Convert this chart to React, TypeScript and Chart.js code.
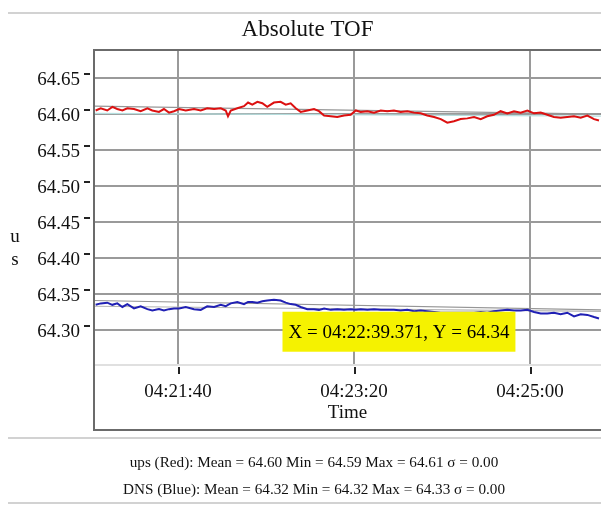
import React, { useEffect, useRef } from "react";
import { Chart, registerables } from "chart.js";

Chart.register(...registerables);

const SERIF = '"Liberation Serif", "Times New Roman", serif';

// ---------- text ----------
const TITLE = "Absolute TOF";
const X_TITLE = "Time";
const Y_UNIT_LETTERS = ["u", "s"];
const STATS_LINES = [
  "ups (Red): Mean = 64.60 Min = 64.59 Max = 64.61 σ = 0.00",
  "DNS (Blue): Mean = 64.32 Min = 64.32 Max = 64.33 σ = 0.00",
];

// ---------- data ----------
const TIME_BASE = "04:20:00";
// seconds after TIME_BASE
const sampleSeconds = [
  53.2, 56.1, 59.8, 62.7, 65.5, 68.4, 71.2, 75.0, 78.8, 82.6,
  85.4, 89.2, 92.0, 94.9, 97.7, 100.6, 104.4, 109.1, 112.9, 116.6,
  120.5, 124.3, 127.1, 128.4, 130.0, 133.7, 137.5, 139.8, 142.2, 145.1,
  147.9, 150.7, 154.5, 158.3, 161.2, 164.0, 166.9, 169.7, 173.5, 177.3,
  180.1, 183.0, 186.8, 190.5, 194.3, 198.1, 201.0, 203.8, 207.6, 211.4,
  215.2, 218.9, 222.7, 226.5, 230.3, 234.1, 237.9, 241.6, 245.5, 249.3,
  253.0, 256.8, 260.6, 264.4, 268.2, 272.0, 275.7, 279.5, 283.3, 287.1,
  290.9, 294.7, 298.5, 302.3, 306.1, 309.8, 313.6, 317.4, 321.2, 325.0,
  328.8, 332.6, 336.4, 339.2,
];
const upsRed = [
  64.605, 64.608, 64.605, 64.610, 64.607, 64.605, 64.608, 64.607, 64.604, 64.608,
  64.605, 64.603, 64.607, 64.602, 64.604, 64.607, 64.605, 64.607, 64.605, 64.608,
  64.607, 64.608, 64.605, 64.597, 64.605, 64.608, 64.611, 64.616, 64.613, 64.617,
  64.615, 64.610, 64.616, 64.617, 64.613, 64.615, 64.608, 64.603, 64.605, 64.607,
  64.604, 64.598, 64.597, 64.596, 64.598, 64.599, 64.605, 64.603, 64.604, 64.602,
  64.605, 64.604, 64.605, 64.603, 64.604, 64.602, 64.601, 64.598, 64.596, 64.593,
  64.588, 64.590, 64.593, 64.594, 64.596, 64.593, 64.597, 64.599, 64.604, 64.601,
  64.604, 64.602, 64.605, 64.601, 64.602, 64.599, 64.596, 64.595, 64.596, 64.597,
  64.595, 64.598, 64.593, 64.591,
];
const dnsBlue = [
  64.335, 64.337, 64.338, 64.335, 64.337, 64.332, 64.336, 64.330, 64.333, 64.329,
  64.327, 64.329, 64.327, 64.329, 64.330, 64.330, 64.332, 64.329, 64.328, 64.333,
  64.332, 64.335, 64.333, 64.335, 64.337, 64.339, 64.336, 64.339, 64.339, 64.338,
  64.340, 64.341, 64.342, 64.341, 64.338, 64.336, 64.335, 64.332, 64.329, 64.329,
  64.328, 64.330, 64.328, 64.329, 64.328, 64.329, 64.328, 64.329, 64.328, 64.329,
  64.328, 64.328, 64.328, 64.327, 64.328, 64.326, 64.327, 64.326, 64.325, 64.324,
  64.324, 64.324, 64.324, 64.324, 64.324, 64.325, 64.324, 64.326, 64.327, 64.328,
  64.327, 64.327, 64.328, 64.325, 64.323, 64.323, 64.324, 64.322, 64.324, 64.319,
  64.322, 64.321, 64.318, 64.316,
];
// reference (envelope) lines, start and end
const trendSeconds = [52.3, 340.3];
const upsUpperRef = [64.611, 64.6];
const upsLowerRef = [64.601, 64.597];
const dnsUpperRef = [64.341, 64.328];
const dnsLowerRef = [64.333, 64.326];

// axes
const X_RANGE_SECONDS = [52.27, 340.34];
const X_STEP_SECONDS = 100;
const Y_RANGE = [64.2514, 64.689];
const Y_STEP = 0.05;

// readout box
const READOUT_X = "04:22:39.371";
const READOUT_Y = 64.34;

// ---------- helpers ----------
function parseTime(s: string): number {
  const [h, m, sec] = s.split(":");
  return Number(h) * 3600 + Number(m) * 60 + Number(sec);
}
function fmtTime(v: number): string {
  const t = Math.round(v);
  const h = Math.floor(t / 3600);
  const m = Math.floor((t % 3600) / 60);
  const s = t % 60;
  const p = (n: number) => String(n).padStart(2, "0");
  return `${p(h)}:${p(m)}:${p(s)}`;
}
const BASE = parseTime(TIME_BASE);
const pts = (xs: number[], ys: number[]) => xs.map((x, i) => ({ x: BASE + x, y: ys[i] }));

const decorPlugin = {
  id: "decor",
  afterDraw(chart: any) {
    const { ctx, chartArea: a, scales } = chart;
    const W = chart.width;
    ctx.save();
    // page rules
    ctx.strokeStyle = "#d2d2d2";
    ctx.lineWidth = 2;
    [13, 438, 503].forEach((y) => {
      ctx.beginPath();
      ctx.moveTo(8, y);
      ctx.lineTo(W, y);
      ctx.stroke();
    });
    // frame
    ctx.strokeStyle = "#6b6b6b";
    ctx.lineWidth = 2;
    const fb = a.bottom + 65;
    ctx.beginPath();
    ctx.moveTo(W, a.top);
    ctx.lineTo(a.left, a.top);
    ctx.lineTo(a.left, fb);
    ctx.lineTo(W, fb);
    ctx.stroke();
    // tick marks
    ctx.strokeStyle = "#222";
    ctx.lineWidth = 2;
    scales.y.ticks.forEach((t: any) => {
      const py = Math.round(scales.y.getPixelForValue(t.value)) - 4;
      ctx.beginPath();
      ctx.moveTo(a.left - 10, py);
      ctx.lineTo(a.left - 4, py);
      ctx.stroke();
    });
    scales.x.ticks.forEach((t: any) => {
      const px = Math.round(scales.x.getPixelForValue(t.value)) + 1;
      ctx.beginPath();
      ctx.moveTo(px, a.bottom + 2);
      ctx.lineTo(px, a.bottom + 9);
      ctx.stroke();
    });
    // readout box
    const tx = scales.x.getPixelForValue(parseTime(READOUT_X));
    const ty = scales.y.getPixelForValue(READOUT_Y);
    const label = `X = ${READOUT_X}, Y = ${READOUT_Y.toFixed(2)}`;
    ctx.font = `19px ${SERIF}`;
    const w = ctx.measureText(label).width + 12;
    const top = ty + 10.5;
    ctx.fillStyle = "#f5f200";
    ctx.fillRect(tx, top, w, 40);
    ctx.fillStyle = "#000";
    ctx.textBaseline = "middle";
    ctx.textAlign = "left";
    ctx.fillText(label, tx + 6, top + 21);
    ctx.restore();
  },
};

export default function App() {
  const ref = useRef<HTMLCanvasElement>(null);
  useEffect(() => {
    const font = { family: SERIF, size: 19 };
    const refLine = (data: any, color: string) => ({
      data,
      borderColor: color,
      borderWidth: 1.2,
      pointRadius: 0,
      order: 3,
    });
    const chart = new Chart(ref.current!, {
      type: "line",
      data: {
        datasets: [
          refLine(pts(trendSeconds, upsUpperRef), "#969696"),
          refLine(pts(trendSeconds, upsLowerRef), "#b5dede"),
          refLine(pts(trendSeconds, dnsUpperRef), "#969696"),
          refLine(pts(trendSeconds, dnsLowerRef), "#b4b4b4"),
          {
            label: "ups",
            data: pts(sampleSeconds, upsRed),
            borderColor: "#dc1010",
            borderWidth: 2,
            pointRadius: 0,
            order: 1,
          },
          {
            label: "DNS",
            data: pts(sampleSeconds, dnsBlue),
            borderColor: "#2020b4",
            borderWidth: 2,
            pointRadius: 0,
            order: 1,
          },
        ],
      },
      options: {
        animation: false,
        responsive: false,
        devicePixelRatio: 1,
        events: [],
        layout: { padding: { left: 14, right: 0, top: 16, bottom: 0 } },
        plugins: {
          legend: { display: false },
          tooltip: { enabled: false },
          title: {
            display: true,
            text: TITLE,
            color: "#111",
            font: { family: SERIF, size: 23, weight: "normal" },
            padding: { top: 0, bottom: 6.4 },
          },
        },
        scales: {
          x: {
            type: "linear",
            min: BASE + X_RANGE_SECONDS[0],
            max: BASE + X_RANGE_SECONDS[1],
            afterFit: (s: any) => {
              s.height = 141;
            },
            grid: { color: "#9a9a9a", lineWidth: 2, drawTicks: false },
            border: { color: "#e0e0e0", width: 2 },
            ticks: {
              stepSize: X_STEP_SECONDS,
              includeBounds: false,
              autoSkip: false,
              maxRotation: 0,
              padding: 16,
              color: "#111",
              font,
              callback: (v: any) => fmtTime(Number(v)),
            },
            title: {
              display: true,
              text: X_TITLE,
              color: "#111",
              font,
              padding: { top: 0, bottom: 82 },
            },
          },
          y: {
            type: "linear",
            min: Y_RANGE[0],
            max: Y_RANGE[1],
            afterFit: (s: any) => {
              s.width = 80;
            },
            grid: { color: "#9a9a9a", lineWidth: 2, drawTicks: false },
            border: { display: false },
            ticks: {
              stepSize: Y_STEP,
              includeBounds: false,
              autoSkip: false,
              padding: 14,
              labelOffset: 2,
              color: "#111",
              font,
              callback: (v: any) => Number(v).toFixed(2),
            },
          },
        },
      },
      plugins: [decorPlugin],
    } as any);
    return () => chart.destroy();
  }, []);

  return (
    <div
      style={{
        position: "fixed",
        left: 0,
        top: 0,
        width: 601,
        height: 506,
        background: "#fff",
        overflow: "hidden",
      }}
    >
      <canvas ref={ref} width={601} height={506} style={{ display: "block", width: 601, height: 506 }} />
      {Y_UNIT_LETTERS.map((ch, i) => (
        <div
          key={ch}
          style={{
            position: "absolute",
            left: 5,
            top: 225 + i * 23,
            width: 20,
            textAlign: "center",
            fontFamily: SERIF,
            fontSize: 19,
            lineHeight: "22px",
            color: "#111",
          }}
        >
          {ch}
        </div>
      ))}
      {STATS_LINES.map((line, i) => (
        <div
          key={i}
          style={{
            position: "absolute",
            left: 0,
            top: 453 + i * 27,
            width: 628,
            textAlign: "center",
            fontFamily: SERIF,
            fontSize: 15.2,
            lineHeight: "18px",
            color: "#111",
            whiteSpace: "nowrap",
          }}
        >
          {line}
        </div>
      ))}
    </div>
  );
}
